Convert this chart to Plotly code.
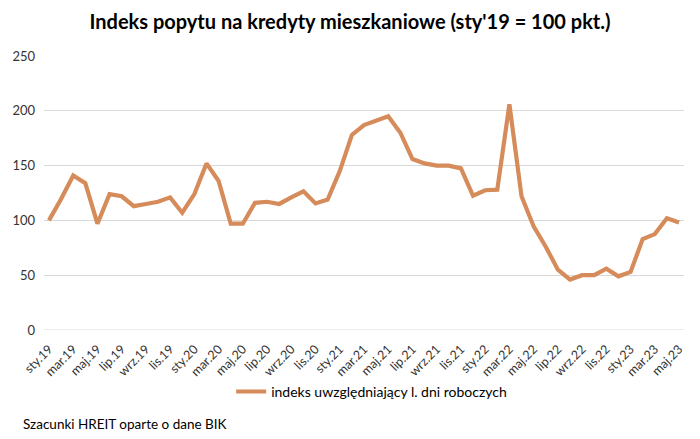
import plotly.graph_objects as go

month_abbr = ["sty", "lut", "mar", "kwi", "maj", "cze", "lip", "sie", "wrz", "paź", "lis", "gru"]
categories = [f"{month_abbr[m]}.{y:02d}" for y in range(19, 24) for m in range(12)][:53]

values = [100, 119.5, 141, 134, 97, 124, 122, 113, 115, 117, 121, 107, 124, 152, 136, 97, 97,
          116, 117, 115, 121, 126.5, 115.5, 119, 145, 178, 187, 191.5, 195, 180, 156, 152, 150,
          150, 147.5, 122.5, 127.5, 128, 206, 122, 94.5, 76, 55, 46, 50, 50, 56, 49, 53, 83,
          87.5, 102, 98]

series_name = "indeks uwzględniający l. dni roboczych"
title_text = "<b>Indeks popytu na kredyty mieszkaniowe (sty'19 = 100 pkt.)</b>"
source_text = "Szacunki HREIT oparte o dane BIK"

idx = list(range(len(categories)))
tick_idx = idx[::2]
tick_txt = categories[::2]

FONT = "Lato"
fig = go.Figure()
fig.add_trace(go.Scatter(x=idx, y=values, mode="lines", name=series_name,
                         line=dict(color="#D58B5A", width=4.2), showlegend=True))

fig.update_layout(
    width=700, height=439,
    margin=dict(l=40, r=16, t=56, b=109),
    paper_bgcolor="white", plot_bgcolor="white",
    font=dict(family=FONT, size=13, color="#404040"),
    title=dict(text=title_text, x=0.5, xanchor="center", y=0.95, yanchor="middle",
               font=dict(family=FONT, size=20, color="#000000")),
    xaxis=dict(range=[-0.41, 52.41], tickmode="array", tickvals=tick_idx, ticktext=tick_txt,
               tickangle=-45, showgrid=False, showline=False, zeroline=False,
               tickfont=dict(size=12.5, color="#333333"), ticks="outside", ticklen=6,
               tickcolor="rgba(0,0,0,0)"),
    yaxis=dict(range=[0, 250], dtick=50, showgrid=True, gridcolor="#D9D9D9", gridwidth=1,
               zeroline=False, showline=False, ticks="", tickfont=dict(size=13, color="#333333"),
               ticklabelstandoff=8),
    legend=dict(orientation="h", x=0.512, xanchor="center", y=-0.226, yanchor="middle",
                font=dict(size=14, color="#000000"), bgcolor="rgba(0,0,0,0)"),
    annotations=[dict(text=source_text, xref="paper", yref="paper", x=-0.036, y=-0.343,
                      xanchor="left", yanchor="middle", showarrow=False,
                      font=dict(size=13.5, color="#000000"))],
)
# baseline grid at 0
fig.add_hline(y=0, line=dict(color="#D9D9D9", width=1), layer="below")

fig.write_html("out.html")
